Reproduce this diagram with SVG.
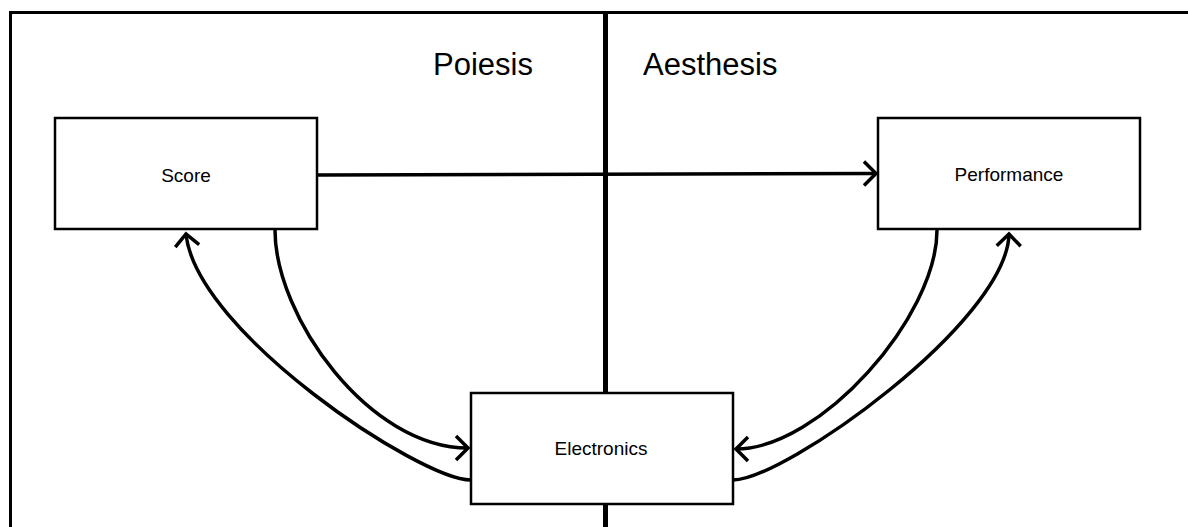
<svg xmlns="http://www.w3.org/2000/svg" width="1188" height="527" viewBox="0 0 1188 527">
  <style>
    .frame { fill: none; stroke: #000; stroke-width: 3; }
    .divider { fill: none; stroke: #000; stroke-width: 5; }
    .box { fill: #fff; stroke: #000; stroke-width: 2.5; }
    .label { font-family: "Liberation Sans", Arial, Helvetica, sans-serif; font-size: 19px; fill: #000; text-anchor: middle; }
    .title { font-family: "Liberation Sans", Arial, Helvetica, sans-serif; font-size: 31px; fill: #000; }
    .conn { fill: none; stroke: #000; stroke-width: 3.5; marker-end: url(#chev); }
  </style>
  <defs>
    <marker id="chev" markerUnits="userSpaceOnUse" orient="auto" refX="0" refY="0" markerWidth="30" markerHeight="30" overflow="visible">
      <path d="M-12,-12 L0,0 L-12,12" fill="none" stroke="#000" stroke-width="3.5" stroke-linejoin="miter"/>
    </marker>
  </defs>

  <rect x="0" y="0" width="1188" height="527" fill="#fff"/>

  <g id="frame">
    <path class="frame" d="M10.5,527 L10.5,12.5 L1188,12.5"/>
    <path class="divider" d="M605.5,13 L605.5,527"/>
    <text class="title" x="433" y="75">Poiesis</text>
    <text class="title" x="643" y="75">Aesthesis</text>
  </g>

  <g id="connectors">
    <path class="conn" d="M318,175 L876,173.5"/>
    <path class="conn" d="M275,230 C275,317 369,448 468,448"/>
    <path class="conn" d="M471,480 C420,480 196,332 186,234"/>
    <path class="conn" d="M937,230 C937,317 820,449 736,449"/>
    <path class="conn" d="M733,480 C784,480 1007,322 1009,234"/>
  </g>

  <g id="score">
    <rect class="box" x="55" y="118" width="262" height="111"/>
    <text class="label" x="186" y="182">Score</text>
  </g>

  <g id="performance">
    <rect class="box" x="878" y="118" width="262" height="111"/>
    <text class="label" x="1009" y="181">Performance</text>
  </g>

  <g id="electronics">
    <rect class="box" x="471" y="393" width="262" height="111"/>
    <text class="label" x="601" y="455">Electronics</text>
  </g>
</svg>
